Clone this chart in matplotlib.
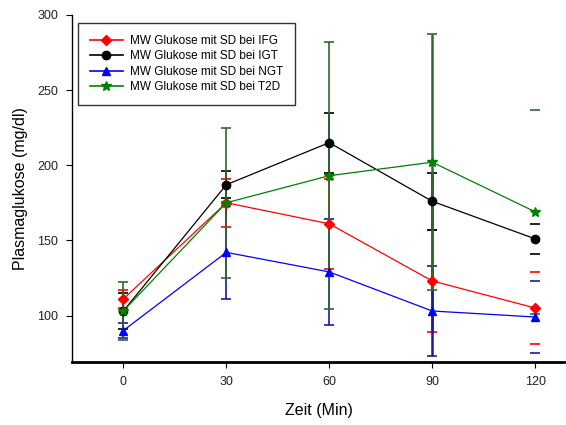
import numpy as np
import matplotlib
matplotlib.use("Agg")
import matplotlib.pyplot as plt
from matplotlib.lines import Line2D

plt.rcParams['font.family'] = ['Liberation Sans', 'DejaVu Sans']

# Daten (Mittelwerte und SD)
zeit = [0, 30, 60, 90, 120]
ifg = [111, 175, 161, 123, 105]
ifg_sd = [6, 16, 30, 34, 24]
igt = [103, 187, 215, 176, 151]
igt_sd = [12, 9, 20, 19, 10]
ngt = [90, 142, 129, 103, 99]
ngt_sd = [5, 31, 35, 30, 24]
t2d = [103, 175, 193, 202, 169]
t2d_sd = [19, 50, 89, 85, 68]

labels = ["MW Glukose mit SD bei IFG", "MW Glukose mit SD bei IGT",
          "MW Glukose mit SD bei NGT", "MW Glukose mit SD bei T2D"]

fig = plt.figure(figsize=(5.66, 4.25), dpi=100)
ax = fig.add_axes([0.127, 0.148, 0.873, 0.817])

series = [
    (ifg, ifg_sd, "red", "red", "D", 5.5),
    (igt, igt_sd, "black", "black", "o", 6),
    (ngt, ngt_sd, "blue", "#1a1aa0", "^", 6),
    (t2d, t2d_sd, "green", "#2f6a2f", "*", 7),
]

handles = []
for (y, sd, col, ecol, mk, ms), lab in zip(series, labels):
    eb = ax.errorbar(zeit, y, yerr=sd, color=col, ecolor=ecol, marker=mk,
                     markersize=ms, linewidth=0.9, elinewidth=1.2,
                     capsize=3.6, capthick=1.2)
    # bei 120 min sind im Original nur die Kappen sichtbar
    eb[2][0].set_linewidths([1.2, 1.2, 1.2, 1.8, 0])
    handles.append(Line2D([], [], color=col, marker=mk, markersize=ms,
                          linewidth=1.2, label=lab))

ax.set_xlim(-15, 129)
ax.set_ylim(69, 300)
ax.set_xticks(zeit)
ax.set_yticks([100, 150, 200, 250, 300])

ax.spines['top'].set_visible(False)
ax.spines['right'].set_visible(False)
ax.spines['bottom'].set_linewidth(2)
ax.spines['left'].set_linewidth(1)
ax.tick_params(direction='out', length=4, pad=6, labelsize=9,
               labelcolor='#222222')

ax.set_xlabel("Zeit (Min)", fontsize=11.5)
ax.set_ylabel("Plasmaglukose (mg/dl)", fontsize=11.5)
ax.xaxis.set_label_coords(0.5, -0.118)
ax.yaxis.set_label_coords(-0.089, 0.5)

leg = ax.legend(handles=handles, loc='upper left',
                bbox_to_anchor=(0.012, 0.977), borderaxespad=0,
                fontsize=8.5, frameon=True, fancybox=False,
                edgecolor='black', borderpad=1.0, handlelength=2.8,
                handletextpad=0.6, labelspacing=0.3)
leg.get_frame().set_linewidth(1)

fig.savefig("out.png", dpi=100)
